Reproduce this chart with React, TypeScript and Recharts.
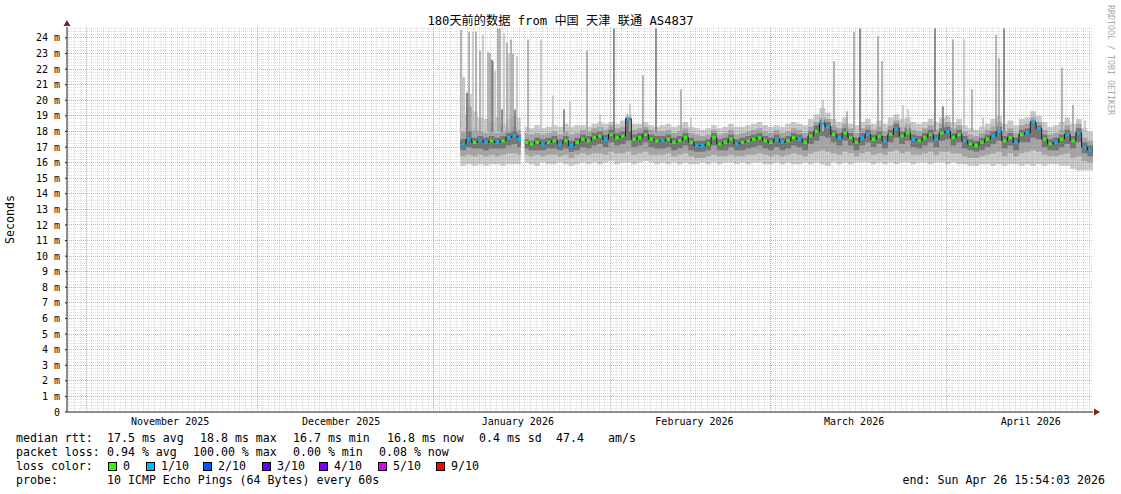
import React from 'react';
import {
  ComposedChart, Area, Line, Scatter, XAxis, YAxis,
  ReferenceLine, ReferenceDot, ErrorBar,
} from 'recharts';

// ---------------- calendar / axes (x = days since Tue Oct 28 2025 15:54:03) ----------------
const WINDOW_DAYS = 180;
const FIRST_MIDNIGHT = 0.3375; // Oct 29 2025 00:00
const MONTH_STARTS = [3.3375, 33.3375, 64.3375, 95.3375, 123.3375, 154.3375];
const MONTH_LABELS = ['November 2025', 'December 2025', 'January 2026', 'February 2026', 'March 2026', 'April 2026'];
const LABEL_OFFSET_DAYS = 14.75;
const Y_MAX = 24.7;
const Y_LABELS = [0, 1, 2, 3, 4, 5, 6, 7, 8, 9, 10, 11, 12, 13, 14, 15, 16, 17, 18, 19, 20, 21, 22, 23, 24];
const Y_MINOR_STEP = 0.2;

// ---------------- samples (one per day, ms) ----------------
const FIRST_DAY = 69;
const GAP_START = 79.6;
const GAP_END = 80.3;

const MEDIAN = [
  17.2, 17.5, 17.3, 17.4, 17.3, 17.4, 17.3, 17.4, 17.6, 17.7, 17.5,
  17.3, 17.2, 17.3, 17.2, 17.3, 17.4, 17.2, 17.4, 17.1, 17.3,
  17.5, 17.4, 17.6, 17.7, 17.5, 17.8, 17.6, 17.7, 18.8, 17.5,
  17.6, 17.8, 17.5, 17.4, 17.4, 17.5, 17.3, 17.4, 17.6, 17.3,
  17.1, 17.1, 17.2, 17.6, 17.2, 17.3, 17.5, 17.2, 17.3, 17.4,
  17.5, 17.6, 17.4, 17.3, 17.5, 17.3, 17.4, 17.6, 17.5, 17.3,
  17.7, 18.0, 18.5, 18.3, 17.8, 17.6, 17.9, 17.6, 17.3, 17.6,
  17.8, 17.5, 17.7, 17.4, 17.8, 18.2, 17.7, 17.9, 17.5, 17.4,
  17.6, 17.8, 17.5, 17.9, 18.0, 17.6, 17.8, 17.4, 17.2, 17.1,
  17.3, 17.5, 17.7, 18.0, 17.4, 17.6, 17.3, 17.8, 17.9, 18.6,
  18.2, 17.5, 17.2, 17.3, 17.5, 17.8, 17.4, 17.9, 17.0, 16.8,
];

// loss level per sample: 0 = none, 1 = 1/10
const LOSS = [
  1, 1, 0, 1, 1, 0, 1, 0, 1, 1, 1,
  0, 0, 0, 1, 0, 0, 1, 0, 1, 0,
  0, 0, 0, 0, 1, 0, 0, 0, 1, 0,
  0, 0, 0, 0, 1, 0, 0, 0, 0, 0,
  1, 1, 0, 0, 0, 0, 0, 1, 0, 0,
  0, 0, 0, 0, 1, 1, 0, 0, 1, 0,
  0, 0, 1, 1, 0, 1, 0, 0, 0, 1,
  1, 0, 0, 1, 0, 1, 0, 0, 1, 0,
  0, 0, 1, 0, 1, 0, 0, 1, 0, 0,
  0, 0, 1, 1, 0, 0, 1, 0, 1, 1,
  1, 0, 0, 1, 0, 1, 0, 1, 1, 1,
];

const SMOKE_MIN = [
  15.8, 15.9, 15.8, 15.9, 15.8, 15.9, 15.9, 15.8, 15.9, 15.9, 15.9,
  16.0, 15.9, 15.8, 16.0, 15.9, 15.9, 16.0, 15.9, 15.8, 15.9,
  16.0, 15.9, 16.0, 15.9, 16.0, 16.1, 15.9, 16.0, 16.0, 15.9,
  16.0, 16.1, 16.0, 15.9, 16.0, 15.9, 16.0, 15.9, 16.0, 15.9,
  15.9, 16.0, 15.9, 16.0, 15.9, 16.0, 16.0, 15.9, 16.0, 15.9,
  16.0, 16.0, 15.9, 15.9, 16.0, 15.9, 16.0, 15.9, 15.9, 16.0,
  15.9, 16.0, 15.9, 15.8, 16.0, 15.9, 16.0, 15.9, 16.0, 16.0,
  16.0, 15.9, 16.0, 15.9, 16.0, 15.9, 16.0, 16.0, 15.9, 16.0,
  16.0, 15.9, 16.0, 16.0, 15.9, 16.0, 15.9, 15.9, 15.8, 15.8,
  15.9, 15.9, 15.8, 15.9, 15.8, 15.9, 15.9, 15.8, 15.9, 15.8,
  15.9, 15.8, 15.9, 15.9, 15.8, 15.8, 15.6, 15.5, 15.5, 15.5,
];

const SMOKE_LOW = [
  16.4, 16.5, 16.4, 16.5, 16.4, 16.5, 16.4, 16.5, 16.6, 16.6, 16.5,
  16.5, 16.4, 16.5, 16.4, 16.5, 16.5, 16.4, 16.5, 16.3, 16.5,
  16.6, 16.5, 16.6, 16.6, 16.5, 16.7, 16.6, 16.6, 16.7, 16.5,
  16.6, 16.7, 16.5, 16.5, 16.5, 16.6, 16.4, 16.5, 16.6, 16.4,
  16.3, 16.3, 16.4, 16.5, 16.4, 16.4, 16.5, 16.4, 16.4, 16.5,
  16.5, 16.6, 16.5, 16.4, 16.5, 16.4, 16.5, 16.6, 16.5, 16.4,
  16.6, 16.7, 16.8, 16.7, 16.6, 16.5, 16.7, 16.6, 16.4, 16.6,
  16.7, 16.5, 16.6, 16.5, 16.7, 16.8, 16.6, 16.7, 16.5, 16.5,
  16.6, 16.7, 16.5, 16.7, 16.7, 16.6, 16.6, 16.4, 16.3, 16.3,
  16.4, 16.5, 16.6, 16.7, 16.4, 16.6, 16.4, 16.6, 16.7, 16.8,
  16.7, 16.5, 16.4, 16.4, 16.5, 16.6, 16.3, 16.4, 16.1, 16.0,
];

const SMOKE_CORE_LOW = [
  16.8, 17.0, 16.9, 16.9, 16.8, 16.9, 16.9, 16.9, 17.1, 17.2, 17.0,
  16.9, 16.8, 16.8, 16.8, 16.9, 16.9, 16.8, 16.9, 16.7, 16.8,
  17.0, 16.9, 17.1, 17.2, 17.0, 17.3, 17.1, 17.2, 17.4, 17.0,
  17.1, 17.3, 17.0, 16.9, 16.9, 17.0, 16.8, 16.9, 17.1, 16.8,
  16.7, 16.7, 16.8, 17.1, 16.8, 16.8, 17.0, 16.8, 16.8, 16.9,
  17.0, 17.1, 16.9, 16.8, 17.0, 16.8, 16.9, 17.1, 17.0, 16.8,
  17.2, 17.4, 17.7, 17.6, 17.3, 17.1, 17.4, 17.1, 16.8, 17.1,
  17.3, 17.0, 17.2, 16.9, 17.3, 17.6, 17.2, 17.4, 17.0, 16.9,
  17.1, 17.3, 17.0, 17.4, 17.5, 17.1, 17.3, 16.9, 16.8, 16.7,
  16.8, 17.0, 17.2, 17.4, 16.9, 17.1, 16.8, 17.3, 17.3, 17.6,
  17.5, 17.0, 16.8, 16.8, 17.0, 17.2, 16.9, 17.3, 16.6, 16.4,
];

const SMOKE_CORE_HIGH = [
  17.5, 18.0, 17.6, 17.7, 17.6, 17.7, 17.6, 17.7, 17.9, 18.0, 17.8,
  17.5, 17.4, 17.6, 17.5, 17.6, 17.7, 17.5, 17.7, 17.4, 17.6,
  17.8, 17.7, 17.9, 18.0, 17.8, 18.1, 17.9, 18.0, 18.9, 17.8,
  17.9, 18.1, 17.8, 17.7, 17.7, 17.8, 17.6, 17.7, 17.9, 17.6,
  17.4, 17.4, 17.5, 17.9, 17.5, 17.6, 17.8, 17.5, 17.6, 17.7,
  17.8, 17.9, 17.7, 17.6, 17.8, 17.6, 17.7, 17.9, 17.8, 17.6,
  18.0, 18.4, 18.7, 18.6, 18.1, 17.9, 18.2, 17.9, 17.6, 17.9,
  18.1, 17.8, 18.0, 17.7, 18.1, 18.5, 18.0, 18.2, 17.8, 17.7,
  17.9, 18.1, 17.8, 18.2, 18.3, 17.9, 18.1, 17.7, 17.5, 17.4,
  17.6, 17.8, 18.0, 18.3, 17.7, 17.9, 17.6, 18.1, 18.2, 18.7,
  18.4, 17.8, 17.5, 17.6, 17.8, 18.1, 17.7, 18.2, 17.3, 17.1,
];

const SMOKE_HIGH = [
  18.0, 19.6, 18.1, 18.0, 17.9, 18.0, 17.9, 18.0, 18.2, 18.3, 18.1,
  17.9, 17.8, 17.9, 17.8, 17.9, 18.0, 17.8, 18.0, 17.8, 17.9,
  18.1, 18.0, 18.2, 18.3, 18.1, 18.4, 18.2, 18.3, 18.9, 18.1,
  18.2, 18.3, 18.1, 18.0, 18.0, 18.1, 17.9, 18.0, 18.2, 17.9,
  17.8, 17.7, 17.8, 18.1, 17.8, 17.9, 18.1, 17.8, 17.9, 18.0,
  18.1, 18.2, 18.0, 17.9, 18.1, 17.9, 18.0, 18.2, 18.1, 17.9,
  18.3, 18.6, 18.9, 18.8, 18.4, 18.2, 18.5, 18.2, 17.9, 18.2,
  18.4, 18.1, 18.3, 18.0, 18.4, 18.7, 18.3, 18.5, 18.1, 18.0,
  18.2, 18.4, 18.1, 18.5, 18.6, 18.2, 18.4, 18.0, 17.8, 17.7,
  17.9, 18.1, 18.3, 18.6, 18.0, 18.2, 17.9, 18.4, 18.5, 18.9,
  18.6, 18.1, 17.8, 17.9, 18.1, 18.4, 18.0, 18.5, 17.6, 17.4,
];

const SMOKE_MAX = [
  19.0, 20.4, 19.3, 18.9, 18.8, 18.6, 18.9, 18.5, 18.8, 19.0, 18.9,
  18.3, 18.2, 18.4, 18.2, 18.3, 18.4, 18.3, 18.5, 18.3, 18.4,
  18.4, 18.3, 18.5, 18.6, 18.5, 18.6, 18.5, 18.7, 19.1, 18.5,
  18.5, 18.6, 18.4, 18.3, 18.4, 18.5, 18.3, 18.4, 18.6, 18.3,
  18.2, 18.1, 18.2, 18.4, 18.2, 18.3, 18.5, 18.3, 18.3, 18.4,
  18.5, 18.6, 18.4, 18.3, 18.4, 18.3, 18.5, 18.6, 18.5, 18.4,
  18.8, 19.1, 19.5, 19.2, 18.8, 18.6, 18.9, 18.5, 18.4, 18.6,
  18.8, 18.5, 18.7, 18.5, 18.9, 19.1, 18.8, 18.9, 18.6, 18.5,
  18.6, 18.8, 18.6, 18.9, 19.0, 18.6, 18.8, 18.4, 18.2, 18.1,
  18.3, 18.5, 18.8, 19.0, 18.5, 18.7, 18.4, 18.8, 18.9, 19.3,
  19.0, 18.6, 18.3, 18.4, 18.6, 18.9, 18.5, 18.8, 18.2, 18.0,
];

// isolated high pings (day, top in ms, shade: 0 light, 1 medium, 2 dark, 3 wide light)
const SPIKE_DAY = [
  69.12, 69.47, 70.18, 70.53, 71.23, 71.75, 72.46, 72.98, 73.86, 74.21, 74.56, 74.74,
  75.09, 75.61, 75.96, 76.32, 76.67, 77.19, 77.54, 77.89, 78.25, 78.6, 78.95,
  80.88, 83.16, 85.26, 87.19, 88.25, 91.23, 93.51, 95.96, 98.77, 101.05, 103.33,
  107.72, 109.47, 122.46, 132.63, 134.56, 136.84, 138.07, 139.12, 142.28, 142.98,
  146.67, 147.54, 152.28, 153.68, 155.44, 157.37, 158.77, 160.7, 162.98, 163.51,
  164.39, 174.56, 176.49, 178.6,
];
const SPIKE_TOP = [
  24.5, 21.5, 20.5, 24.4, 24.4, 24.4, 23.2, 24.2, 23.1, 23.0, 22.6, 22.5,
  21.9, 24.6, 24.6, 19.4, 24.3, 23.7, 23.0, 23.9, 23.0, 19.4, 22.8,
  23.9, 23.9, 20.3, 19.4, 19.9, 23.2, 19.1, 24.6, 19.8, 21.6, 24.6,
  20.7, 18.9, 18.4, 20.0, 22.5, 19.3, 24.4, 24.6, 24.1, 22.5,
  19.7, 19.4, 24.6, 19.6, 23.9, 23.9, 20.7, 18.9, 24.2, 22.7,
  24.6, 22.1, 19.7, 18.7,
];
const SPIKE_SHADE = [
  1, 3, 2, 1, 0, 1, 1, 0, 1, 1, 2, 1,
  0, 1, 1, 2, 0, 1, 0, 1, 1, 2, 0,
  1, 0, 0, 2, 0, 1, 0, 2, 0, 1, 2,
  1, 0, 0, 0, 1, 1, 1, 2, 1, 1,
  0, 0, 2, 2, 1, 0, 1, 0, 1, 1,
  2, 1, 1, 0,
];
const SPIKE_BASE = 18.0;

// ---------------- legend texts ----------------
const TITLE = '180天前的数据 from 中国 天津 联通 AS4837';
const RTT_LINE = [['median rtt:', 16], ['17.5 ms avg', 107], ['18.8 ms max', 200], ['16.7 ms min', 293], ['16.8 ms now', 387], ['0.4 ms sd', 479], ['47.4', 556], ['am/s', 608]] as const;
const LOSS_LINE = [['packet loss:', 16], ['0.94 % avg', 107], ['100.00 % max', 193], ['0.00 % min', 293], ['0.08 % now', 379]] as const;
const LOSS_COLOR_LABELS = ['0', '1/10', '2/10', '3/10', '4/10', '5/10', '9/10'];
const LOSS_COLORS = ['#26ff00', '#00b8ff', '#0059ff', '#5e00ff', '#7e00ff', '#dd00ff', '#ff0000'];
const LOSS_BOX_X = [108, 146, 203, 262, 319, 378, 436];
const PROBE_TEXT = '10 ICMP Echo Pings (64 Bytes) every 60s';
const END_TEXT = 'end: Sun Apr 26 15:54:03 2026';
const WATERMARK = 'RRDTOOL / TOBI OETIKER';

// ---------------- styling ----------------
const W = 1121;
const H = 494;
const MONO = '"DejaVu Sans Mono", "Noto Sans CJK SC", monospace';
const GRID = 'rgba(143,143,143,0.3)';
const MGRID = 'rgba(222,79,79,0.55)';
const AXIS = '#1f1f1f';
const ARROW = '#801f1f';
const SMOKE_COLORS = ['#cccccc', '#a6a6a6', '#747474'];
const SPIKE_STYLE = [
  { stroke: '#bdbdbd', width: 1.5 },
  { stroke: '#9c9c9c', width: 1.5 },
  { stroke: '#6e6e6e', width: 1.5 },
  { stroke: '#c6c6c6', width: 4 },
];

// ---------------- derived tables ----------------
type Row = {
  x: number; med: number | null; lo: number | null; mlo: number | null; dlo: number | null;
  dhi: number | null; mhi: number | null; hi: number | null;
};

const starts = MEDIAN.map((_, i) => {
  const d = FIRST_DAY + i;
  return d > GAP_START && d < GAP_END ? GAP_END : d;
});
const ends = starts.map((s, i) => {
  if (i === starts.length - 1) return WINDOW_DAYS;
  const next = starts[i + 1];
  return s < GAP_START && next > GAP_START ? GAP_START : next;
});

const rowAt = (i: number, x: number): Row => ({
  x, med: MEDIAN[i], lo: SMOKE_MIN[i], mlo: SMOKE_LOW[i], dlo: SMOKE_CORE_LOW[i],
  dhi: SMOKE_CORE_HIGH[i], mhi: SMOKE_HIGH[i], hi: SMOKE_MAX[i],
});

const steps: Row[] = [];
MEDIAN.forEach((_, i) => {
  steps.push(rowAt(i, starts[i]));
  const isLast = i === MEDIAN.length - 1;
  if (isLast || ends[i] !== starts[i + 1]) {
    steps.push(rowAt(i, ends[i]));
    if (!isLast) {
      steps.push({ x: ends[i] + 0.01, med: null, lo: null, mlo: null, dlo: null, dhi: null, mhi: null, hi: null });
    }
  }
});

const markers = MEDIAN.map((m, i) => ({ x: (starts[i] + ends[i]) / 2, y: m, loss: LOSS[i] }));

const spikeGroups = [0, 1, 2, 3].map((shade) =>
  SPIKE_DAY.map((d, i) => ({ x: d, y: SPIKE_BASE, err: [0, SPIKE_TOP[i] - SPIKE_BASE], shade: SPIKE_SHADE[i] }))
    .filter((s) => s.shade === shade)
);

const dayLines: number[] = [];
for (let k = 0; FIRST_MIDNIGHT + k < WINDOW_DAYS; k++) {
  const v = FIRST_MIDNIGHT + k;
  if (!MONTH_STARTS.some((m) => Math.abs(m - v) < 1e-6)) dayLines.push(v);
}
const minorY: number[] = [];
for (let k = 1; k * Y_MINOR_STEP < Y_MAX; k++) {
  if (k % 5 !== 0) minorY.push(Math.round(k * Y_MINOR_STEP * 10) / 10);
}
const majorY = Y_LABELS.filter((v) => v > 0);
const monthTicks = MONTH_STARTS.map((m) => m + LABEL_OFFSET_DAYS);

const rangeKey = (a: keyof Row, b: keyof Row) => (r: Row) => (r[a] == null || r[b] == null ? null : [r[a], r[b]]);

const MedianMark = (props: any) => {
  const { cx, cy, payload } = props;
  if (cx == null || cy == null) return <g />;
  return <rect x={cx - 1.8} y={cy - 1.5} width={3.6} height={3} fill={LOSS_COLORS[payload.loss]} />;
};

const Empty = () => <g />;

export default function App() {
  return (
    <div style={{ position: 'absolute', left: 0, top: 0, width: W, height: H, background: '#fff' }}>
      <ComposedChart width={W} height={H} margin={{ top: 27, right: 28, bottom: 62, left: 7 }}>
        <XAxis
          dataKey="x" type="number" domain={[0, WINDOW_DAYS]} allowDataOverflow
          ticks={monthTicks} interval={0}
          tickFormatter={(v: number) => MONTH_LABELS[monthTicks.findIndex((t) => Math.abs(t - v) < 1e-6)] ?? ''}
          tickLine={false} tickSize={0} tickMargin={6} height={20}
          axisLine={{ stroke: AXIS }}
          tick={{ fontFamily: MONO, fontSize: 10, fill: '#000' }}
        />
        <YAxis
          type="number" domain={[0, Y_MAX]} allowDataOverflow ticks={Y_LABELS} interval={0} width={60}
          tickFormatter={(v: number) => (v === 0 ? '0' : `${v} m`)}
          tickSize={2} tickMargin={5}
          tickLine={{ stroke: AXIS }} axisLine={{ stroke: AXIS }}
          tick={{ fontFamily: MONO, fontSize: 10, fill: '#000' }}
        />

        {minorY.map((v) => (
          <ReferenceLine key={`hy${v}`} y={v} stroke={GRID} strokeDasharray="1 1" shapeRendering="crispEdges" />
        ))}
        {dayLines.map((v) => (
          <ReferenceLine key={`vx${v}`} x={v} stroke={GRID} strokeDasharray="1 1" shapeRendering="crispEdges" />
        ))}
        {majorY.map((v) => (
          <ReferenceLine key={`my${v}`} y={v} stroke={MGRID} strokeDasharray="1 1" shapeRendering="crispEdges" />
        ))}
        {MONTH_STARTS.map((v) => (
          <ReferenceLine key={`mx${v}`} x={v} stroke={MGRID} strokeDasharray="1 1" shapeRendering="crispEdges" />
        ))}

        <Area data={steps} dataKey={rangeKey('lo', 'hi') as any} type="stepAfter" stroke="none"
          fill={SMOKE_COLORS[0]} fillOpacity={1} isAnimationActive={false} dot={false} activeDot={false} connectNulls={false} />

        {spikeGroups.map((g, k) => (
          <Scatter key={`sp${k}`} data={g} dataKey="y" shape={Empty} isAnimationActive={false}>
            <ErrorBar dataKey="err" direction="y" width={0} stroke={SPIKE_STYLE[k].stroke}
              strokeWidth={SPIKE_STYLE[k].width} isAnimationActive={false} />
          </Scatter>
        ))}

        <Area data={steps} dataKey={rangeKey('mlo', 'mhi') as any} type="stepAfter" stroke="none"
          fill={SMOKE_COLORS[1]} fillOpacity={1} isAnimationActive={false} dot={false} activeDot={false} connectNulls={false} />
        <Area data={steps} dataKey={rangeKey('dlo', 'dhi') as any} type="stepAfter" stroke="none"
          fill={SMOKE_COLORS[2]} fillOpacity={1} isAnimationActive={false} dot={false} activeDot={false} connectNulls={false} />

        <Line data={steps} dataKey="med" type="stepAfter" stroke="#202020" strokeWidth={1}
          dot={false} activeDot={false} isAnimationActive={false} connectNulls={false} />
        <Scatter data={markers} dataKey="y" shape={MedianMark} isAnimationActive={false} />

        <ReferenceDot x={WINDOW_DAYS} y={0} r={0} ifOverflow="visible"
          shape={(p: any) => <path d={`M${p.cx + 1} ${p.cy - 3.5}L${p.cx + 7} ${p.cy}L${p.cx + 1} ${p.cy + 3.5}Z`} fill={ARROW} />} />
        <ReferenceDot x={0} y={Y_MAX} r={0} ifOverflow="visible"
          shape={(p: any) => <path d={`M${p.cx - 3.5} ${p.cy - 1}L${p.cx} ${p.cy - 7}L${p.cx + 3.5} ${p.cy - 1}Z`} fill={ARROW} />} />
      </ComposedChart>

      <svg width={W} height={H} style={{ position: 'absolute', left: 0, top: 0, pointerEvents: 'none' }}>
        <text x={560.5} y={25} textAnchor="middle" fontFamily={MONO} fontSize={12.2} fill="#000">{TITLE}</text>
        <text transform="translate(14,219.5) rotate(-90)" textAnchor="middle" fontFamily={MONO} fontSize={11.6} fill="#000">Seconds</text>
        <text transform="translate(1108,5) rotate(90)" fontFamily={MONO} fontSize={8.3} fill="#a8a8a8">{WATERMARK}</text>

        <g fontFamily={MONO} fontSize={11.6} fill="#000" style={{ whiteSpace: 'pre' }}>
          {RTT_LINE.map(([t, x]) => <text key={`r${x}`} x={x} y={442}>{t}</text>)}
          {LOSS_LINE.map(([t, x]) => <text key={`l${x}`} x={x} y={456}>{t}</text>)}
          <text x={16} y={470}>loss color:</text>
          {LOSS_COLOR_LABELS.map((lab, i) => (
            <g key={lab}>
              <rect x={LOSS_BOX_X[i] + 0.5} y={462.5} width={8} height={8} fill={LOSS_COLORS[i]} stroke="#000" strokeWidth={1} />
              <text x={LOSS_BOX_X[i] + 15} y={470}>{lab}</text>
            </g>
          ))}
          <text x={16} y={484}>probe:</text>
          <text x={107} y={484}>{PROBE_TEXT}</text>
          <text x={1105} y={484} textAnchor="end">{END_TEXT}</text>
        </g>
      </svg>
    </div>
  );
}
